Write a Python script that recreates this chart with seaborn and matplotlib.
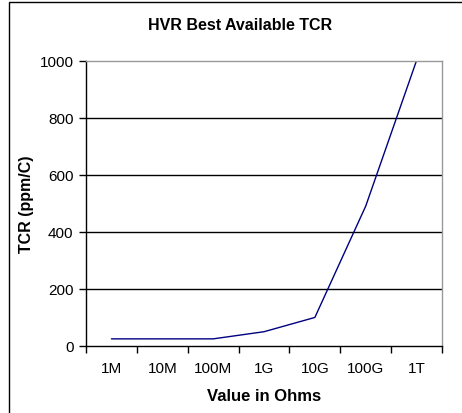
import seaborn as sns
import matplotlib.pyplot as plt
from matplotlib.patches import Rectangle

# values
ohms = ['1M', '10M', '100M', '1G', '10G', '100G', '1T']
tcr = [25, 25, 25, 50, 100, 490, 1000]
y_ticks = [0, 200, 400, 600, 800, 1000]

sns.set_style('white', {'text.color': 'black', 'axes.labelcolor': 'black',
                        'xtick.color': 'black', 'ytick.color': 'black'})
plt.rcParams['font.family'] = ['Liberation Sans', 'DejaVu Sans']

fig = plt.figure(figsize=(4.62, 4.14), dpi=100)
ax = fig.add_axes([86 / 462, 1 - 347 / 414, (442 - 86) / 462, (347 - 61.5) / 414])

sns.lineplot(x=list(range(len(ohms))), y=tcr, color='#000080', linewidth=1.0, ax=ax)

ax.set_xlim(-0.5, len(ohms) - 0.5)
ax.set_ylim(0, 1000)

# category axis: tick marks between categories, labels at centres
ax.set_xticks([i - 0.5 for i in range(len(ohms) + 1)])
ax.set_xticklabels([])
ax.set_xticks(range(len(ohms)), minor=True)
ax.set_xticklabels(ohms, minor=True, fontsize=11)
ax.tick_params(axis='x', which='major', direction='out', length=5, width=1, color='black', bottom=True)
ax.tick_params(axis='x', which='minor', length=0, pad=11)

ax.set_yticks(y_ticks)
ax.set_yticklabels([str(v) for v in y_ticks], fontsize=11)
ax.tick_params(axis='y', direction='out', length=5, width=1, color='black', left=True, pad=4)

for v in y_ticks[1:-1]:
    ax.axhline(v, color='black', linewidth=1, zorder=0)

for s in ['left', 'bottom']:
    ax.spines[s].set_color('black')
    ax.spines[s].set_linewidth(1)
for s in ['top', 'right']:
    ax.spines[s].set_color('#999999')
    ax.spines[s].set_linewidth(1)

ax.set_xlabel('Value in Ohms', fontsize=12, fontweight='bold', labelpad=9, color='black')
ax.set_ylabel('TCR (ppm/C)', fontsize=11.5, fontweight='bold', labelpad=4, color='black')
fig.text(240 / 462, 1 - 25 / 414, 'HVR Best Available TCR', ha='center', va='center',
         fontsize=11.5, fontweight='bold', color='black')

# chart border
fig.patches.append(Rectangle((9 / 462, -0.1), 1.5, 1.1 - 2.5 / 414, transform=fig.transFigure,
                             fill=False, edgecolor='black', linewidth=1))

fig.savefig('out.png', dpi=100)
